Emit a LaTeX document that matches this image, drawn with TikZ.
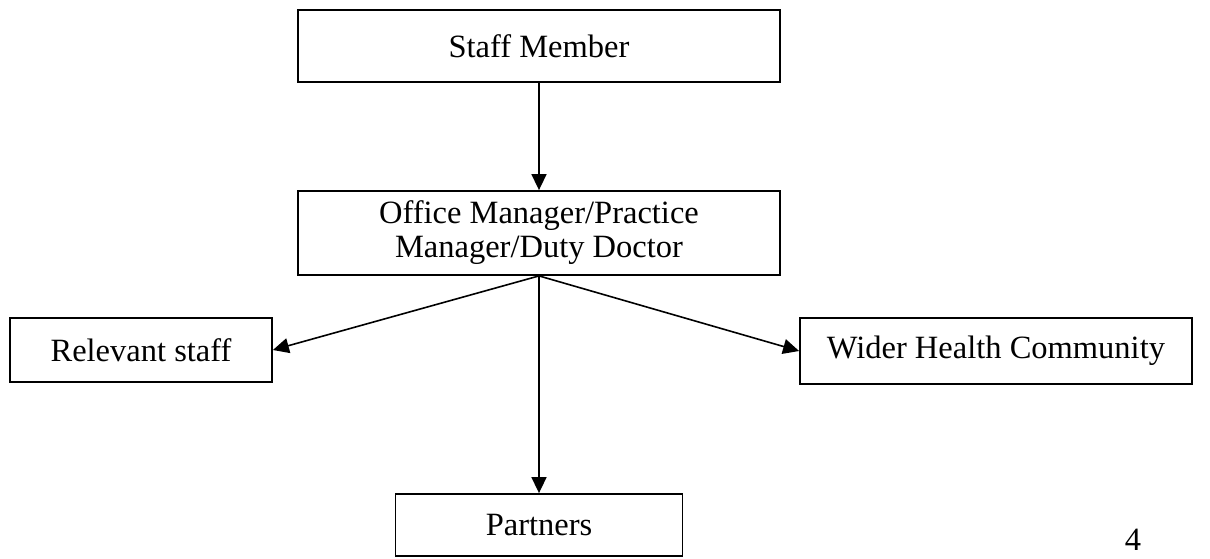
\documentclass[tikz,border=0pt]{standalone}
\usepackage{fontspec}
\setmainfont{Liberation Serif}
\usetikzlibrary{arrows.meta}
\begin{document}
\begin{tikzpicture}[x=1pt,y=-1pt,
  box/.style={draw, line width=1.8pt, inner sep=0pt, align=center,
    font=\fontsize{32.5}{34}\selectfont},
  conn/.style={line width=1.6pt, -{Triangle[length=16pt,width=15pt]}},
  pagenum/.style={inner sep=0pt, font=\fontsize{32.5}{34}\selectfont}]
\useasboundingbox (0,0) rectangle (1210,558);
\node[box, minimum width=482pt, minimum height=72pt] (staff) at (539,46) {Staff Member};
\node[box, minimum width=482pt, minimum height=84pt] (office) at (539,233)
  {Office Manager/Practice\\Manager/Duty Doctor};
\node[box, minimum width=262pt, minimum height=64pt] (rel) at (141,350) {Relevant staff};
\node[box, minimum width=392pt, minimum height=66pt] (wider) at (996,351) {Wider Health Community};
\node[box, minimum width=287pt, minimum height=62pt] (part) at (539,525) {Partners};
\node[pagenum] (pg) at (1133,540) {4};
\draw[conn] (staff.south) -- (office.north);
\draw[conn] (office.south) -- (rel.east);
\draw[conn] (office.south) -- (wider.west);
\draw[conn] (office.south) -- (part.north);
\end{tikzpicture}
\end{document}
